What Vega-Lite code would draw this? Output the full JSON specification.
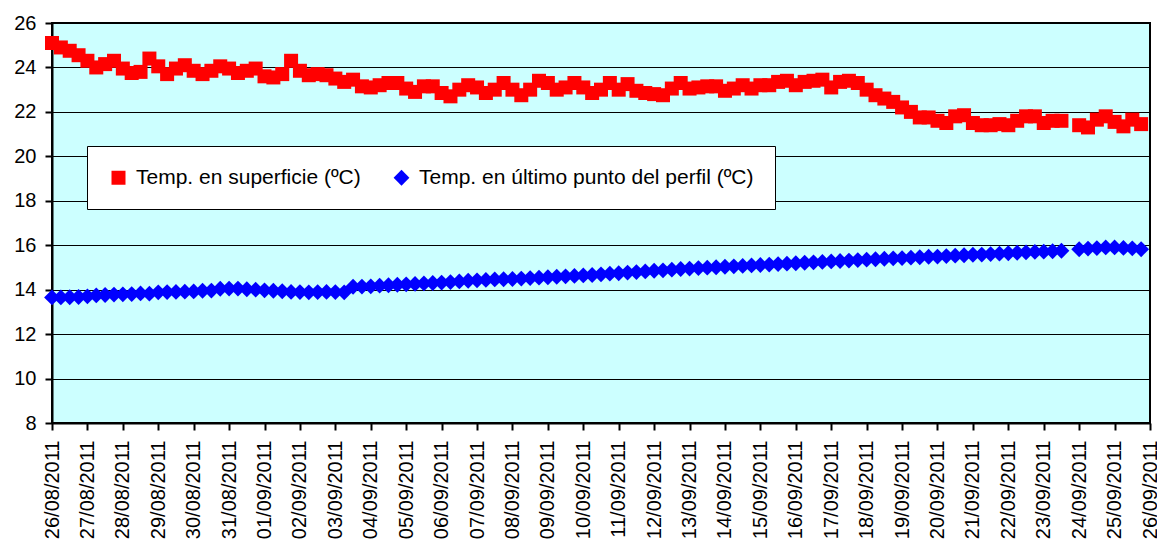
{
  "$schema": "https://vega.github.io/schema/vega-lite/v6.json",
  "width": 1098,
  "height": 400,
  "autosize": "none",
  "padding": {"left": 52, "top": 23, "right": 7, "bottom": 122},
  "background": "#FFFFFF",
  "config": {
    "font": "Liberation Sans",
    "view": {"fill": "#CCFFFF", "stroke": "#000000", "strokeWidth": 2}
  },
  "data": {"values": [
    {"t":"2011-08-26T00:00","s":25.1,"p":13.65},{"t":"2011-08-26T06:00","s":24.9,"p":13.65},{"t":"2011-08-26T12:00","s":24.75,"p":13.66},{"t":"2011-08-26T18:00","s":24.55,"p":13.67},
    {"t":"2011-08-27T00:00","s":24.3,"p":13.70},{"t":"2011-08-27T06:00","s":24.0,"p":13.74},{"t":"2011-08-27T12:00","s":24.15,"p":13.76},{"t":"2011-08-27T18:00","s":24.3,"p":13.78},
    {"t":"2011-08-28T00:00","s":23.95,"p":13.79},{"t":"2011-08-28T06:00","s":23.75,"p":13.80},{"t":"2011-08-28T12:00","s":23.8,"p":13.83},{"t":"2011-08-28T18:00","s":24.4,"p":13.82},
    {"t":"2011-08-29T00:00","s":24.05,"p":13.88},{"t":"2011-08-29T06:00","s":23.7,"p":13.89},{"t":"2011-08-29T12:00","s":23.95,"p":13.90},{"t":"2011-08-29T18:00","s":24.1,"p":13.91},
    {"t":"2011-08-30T00:00","s":23.85,"p":13.92},{"t":"2011-08-30T06:00","s":23.7,"p":13.95},{"t":"2011-08-30T12:00","s":23.85,"p":13.96},{"t":"2011-08-30T18:00","s":24.05,"p":14.04},
    {"t":"2011-08-31T00:00","s":23.95,"p":14.05},{"t":"2011-08-31T06:00","s":23.75,"p":14.05},{"t":"2011-08-31T12:00","s":23.85,"p":14.02},{"t":"2011-08-31T18:00","s":23.95,"p":14.00},
    {"t":"2011-09-01T00:00","s":23.6,"p":13.97},{"t":"2011-09-01T06:00","s":23.55,"p":13.95},{"t":"2011-09-01T12:00","s":23.7,"p":13.93},{"t":"2011-09-01T18:00","s":24.3,"p":13.90},
    {"t":"2011-09-02T00:00","s":23.85,"p":13.89},{"t":"2011-09-02T06:00","s":23.65,"p":13.88},{"t":"2011-09-02T12:00","s":23.7,"p":13.89},{"t":"2011-09-02T18:00","s":23.65,"p":13.90},
    {"t":"2011-09-03T00:00","s":23.5,"p":13.89},{"t":"2011-09-03T06:00","s":23.35,"p":13.88},{"t":"2011-09-03T12:00","s":23.45,"p":14.13},{"t":"2011-09-03T18:00","s":23.15,"p":14.14},
    {"t":"2011-09-04T00:00","s":23.1,"p":14.15},{"t":"2011-09-04T06:00","s":23.2,"p":14.18},{"t":"2011-09-04T12:00","s":23.3,"p":14.20},{"t":"2011-09-04T18:00","s":23.3,"p":14.22},
    {"t":"2011-09-05T00:00","s":23.05,"p":14.24},{"t":"2011-09-05T06:00","s":22.9,"p":14.26},{"t":"2011-09-05T12:00","s":23.15,"p":14.28},{"t":"2011-09-05T18:00","s":23.15,"p":14.30},
    {"t":"2011-09-06T00:00","s":22.85,"p":14.32},{"t":"2011-09-06T06:00","s":22.7,"p":14.34},{"t":"2011-09-06T12:00","s":23.0,"p":14.37},{"t":"2011-09-06T18:00","s":23.2,"p":14.40},
    {"t":"2011-09-07T00:00","s":23.1,"p":14.42},{"t":"2011-09-07T06:00","s":22.85,"p":14.44},{"t":"2011-09-07T12:00","s":23.0,"p":14.46},{"t":"2011-09-07T18:00","s":23.3,"p":14.47},
    {"t":"2011-09-08T00:00","s":23.0,"p":14.48},{"t":"2011-09-08T06:00","s":22.75,"p":14.50},{"t":"2011-09-08T12:00","s":23.0,"p":14.52},{"t":"2011-09-08T18:00","s":23.4,"p":14.54},
    {"t":"2011-09-09T00:00","s":23.3,"p":14.56},{"t":"2011-09-09T06:00","s":23.0,"p":14.58},{"t":"2011-09-09T12:00","s":23.1,"p":14.60},{"t":"2011-09-09T18:00","s":23.3,"p":14.62},
    {"t":"2011-09-10T00:00","s":23.1,"p":14.64},{"t":"2011-09-10T06:00","s":22.85,"p":14.66},{"t":"2011-09-10T12:00","s":23.0,"p":14.69},{"t":"2011-09-10T18:00","s":23.3,"p":14.72},
    {"t":"2011-09-11T00:00","s":23.0,"p":14.74},{"t":"2011-09-11T06:00","s":23.25,"p":14.77},{"t":"2011-09-11T12:00","s":22.95,"p":14.79},{"t":"2011-09-11T18:00","s":22.85,"p":14.82},
    {"t":"2011-09-12T00:00","s":22.8,"p":14.85},{"t":"2011-09-12T06:00","s":22.75,"p":14.87},{"t":"2011-09-12T12:00","s":23.05,"p":14.90},{"t":"2011-09-12T18:00","s":23.3,"p":14.93},
    {"t":"2011-09-13T00:00","s":23.05,"p":14.95},{"t":"2011-09-13T06:00","s":23.1,"p":14.97},{"t":"2011-09-13T12:00","s":23.15,"p":14.99},{"t":"2011-09-13T18:00","s":23.15,"p":15.01},
    {"t":"2011-09-14T00:00","s":22.95,"p":15.03},{"t":"2011-09-14T06:00","s":23.05,"p":15.05},{"t":"2011-09-14T12:00","s":23.2,"p":15.07},{"t":"2011-09-14T18:00","s":23.05,"p":15.09},
    {"t":"2011-09-15T00:00","s":23.2,"p":15.11},{"t":"2011-09-15T06:00","s":23.2,"p":15.13},{"t":"2011-09-15T12:00","s":23.35,"p":15.15},{"t":"2011-09-15T18:00","s":23.4,"p":15.17},
    {"t":"2011-09-16T00:00","s":23.2,"p":15.19},{"t":"2011-09-16T06:00","s":23.35,"p":15.21},{"t":"2011-09-16T12:00","s":23.4,"p":15.23},{"t":"2011-09-16T18:00","s":23.45,"p":15.25},
    {"t":"2011-09-17T00:00","s":23.1,"p":15.27},{"t":"2011-09-17T06:00","s":23.35,"p":15.29},{"t":"2011-09-17T12:00","s":23.4,"p":15.31},{"t":"2011-09-17T18:00","s":23.3,"p":15.33},
    {"t":"2011-09-18T00:00","s":23.0,"p":15.35},{"t":"2011-09-18T06:00","s":22.75,"p":15.37},{"t":"2011-09-18T12:00","s":22.6,"p":15.39},{"t":"2011-09-18T18:00","s":22.45,"p":15.41},
    {"t":"2011-09-19T00:00","s":22.2,"p":15.42},{"t":"2011-09-19T06:00","s":22.0,"p":15.44},{"t":"2011-09-19T12:00","s":21.75,"p":15.46},{"t":"2011-09-19T18:00","s":21.75,"p":15.48},
    {"t":"2011-09-20T00:00","s":21.6,"p":15.49},{"t":"2011-09-20T06:00","s":21.5,"p":15.51},{"t":"2011-09-20T12:00","s":21.8,"p":15.53},{"t":"2011-09-20T18:00","s":21.85,"p":15.55},
    {"t":"2011-09-21T00:00","s":21.5,"p":15.57},{"t":"2011-09-21T06:00","s":21.4,"p":15.58},{"t":"2011-09-21T12:00","s":21.4,"p":15.60},{"t":"2011-09-21T18:00","s":21.45,"p":15.62},
    {"t":"2011-09-22T00:00","s":21.4,"p":15.64},{"t":"2011-09-22T06:00","s":21.6,"p":15.66},{"t":"2011-09-22T12:00","s":21.8,"p":15.68},{"t":"2011-09-22T18:00","s":21.8,"p":15.70},
    {"t":"2011-09-23T00:00","s":21.5,"p":15.71},{"t":"2011-09-23T06:00","s":21.6,"p":15.73},{"t":"2011-09-23T12:00","s":21.6,"p":15.75},
    {"t":"2011-09-24T00:00","s":21.4,"p":15.82},{"t":"2011-09-24T06:00","s":21.3,"p":15.85},{"t":"2011-09-24T12:00","s":21.65,"p":15.87},{"t":"2011-09-24T18:00","s":21.8,"p":15.90},
    {"t":"2011-09-25T00:00","s":21.55,"p":15.90},{"t":"2011-09-25T06:00","s":21.35,"p":15.88},{"t":"2011-09-25T12:00","s":21.65,"p":15.86},{"t":"2011-09-25T18:00","s":21.45,"p":15.82}
  ]},
  "transform": [{"fold": ["s", "p"], "as": ["serie", "temp"]}],
  "mark": {"type": "point", "filled": true, "opacity": 1, "strokeWidth": 0},
  "encoding": {
    "x": {
      "field": "t", "type": "temporal",
      "scale": {"domain": [{"year": 2011, "month": 8, "date": 26}, {"year": 2011, "month": 9, "date": 26}], "nice": false},
      "axis": {
        "title": null, "format": "%d/%m/%Y", "labelAngle": 270,
        "tickCount": {"interval": "day", "step": 1},
        "labelOverlap": false, "labelFlush": false, "grid": false,
        "labelFontSize": 20, "labelColor": "#000000", "labelPadding": 10,
        "tickColor": "#000000", "tickSize": 7, "tickWidth": 2,
        "domainColor": "#000000", "domainWidth": 2
      }
    },
    "y": {
      "field": "temp", "type": "quantitative",
      "scale": {"domain": [8, 26], "nice": false, "zero": false},
      "axis": {
        "title": null, "values": [8, 10, 12, 14, 16, 18, 20, 22, 24, 26],
        "labelFontSize": 20, "labelColor": "#000000", "labelPadding": 9,
        "tickColor": "#000000", "tickSize": 7, "tickWidth": 2,
        "domainColor": "#000000", "domainWidth": 2,
        "grid": true, "gridColor": "#000000", "gridWidth": 1
      }
    },
    "color": {
      "field": "serie", "type": "nominal",
      "scale": {"domain": ["s", "p"], "range": ["#FF0000", "#0000FF"]},
      "legend": {
        "title": null, "orient": "none", "direction": "horizontal",
        "legendX": 35, "legendY": 123,
        "fillColor": "#FFFFFF", "strokeColor": "#000000",
        "padding": 21, "columnPadding": 30, "labelOffset": 7,
        "labelFontSize": 21, "labelColor": "#000000", "labelLimit": 600,
        "symbolSize": 220, "symbolStrokeWidth": 0,
        "labelExpr": "datum.value == 's' ? 'Temp. en superficie (ºC)' : 'Temp. en último punto del perfil (ºC)'"
      }
    },
    "shape": {
      "field": "serie", "type": "nominal",
      "scale": {"domain": ["s", "p"], "range": ["square", "diamond"]}
    },
    "size": {
      "field": "serie", "type": "nominal",
      "scale": {"domain": ["s", "p"], "range": [196, 250]},
      "legend": null
    }
  }
}
